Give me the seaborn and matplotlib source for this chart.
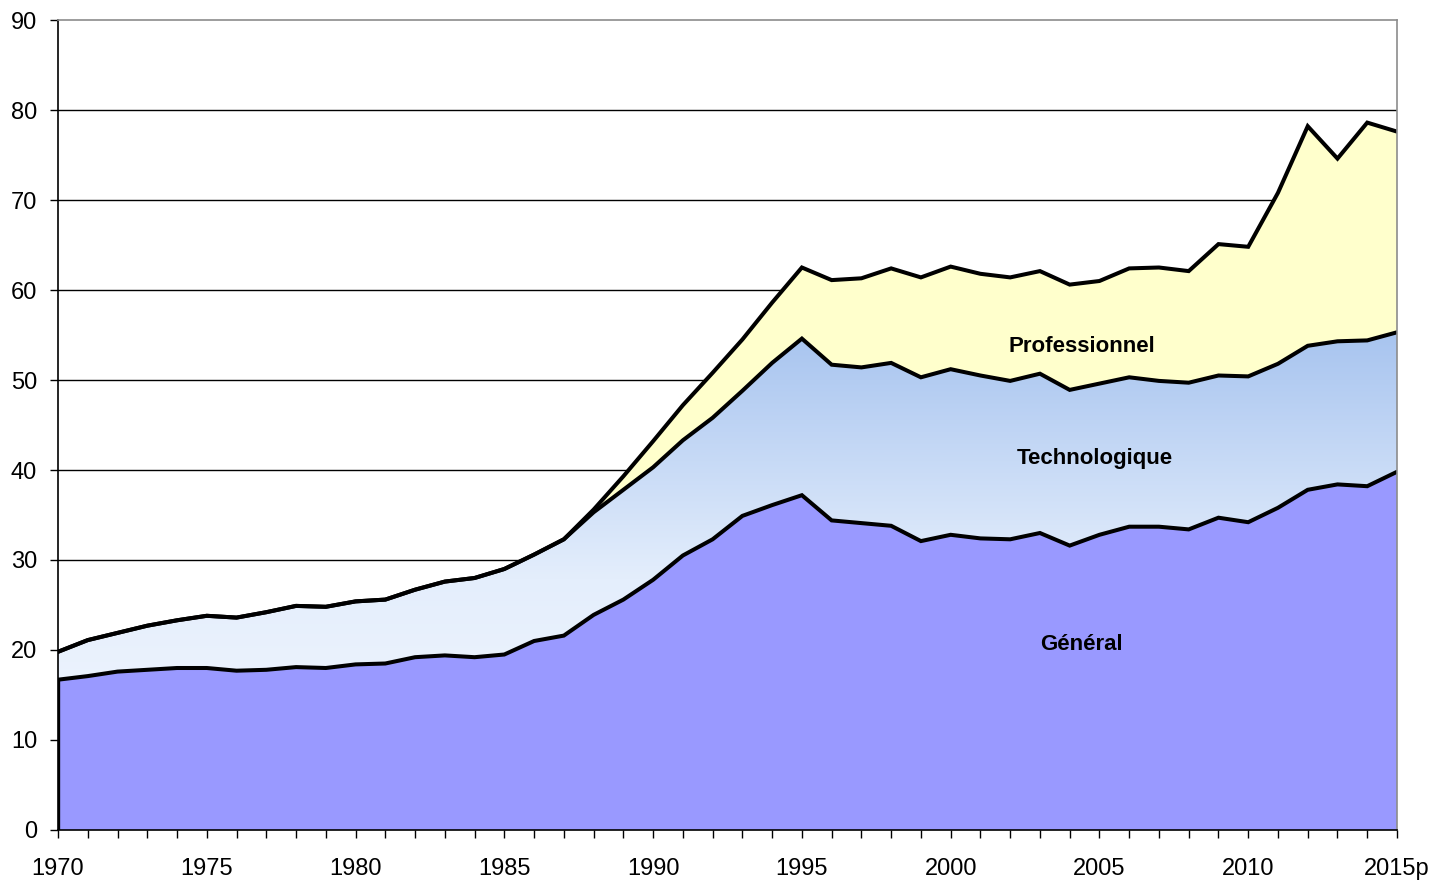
import numpy as np
import pandas as pd
import matplotlib
matplotlib.use("Agg")
import matplotlib.pyplot as plt
from matplotlib.colors import LinearSegmentedColormap
import seaborn as sns

years = list(range(1970, 2016))
year_labels = ["1970", "1975", "1980", "1985", "1990", "1995", "2000", "2005", "2010", "2015p"]

general = [16.7, 17.1, 17.6, 17.8, 18.0, 18.0, 17.7, 17.8, 18.1, 18.0,
           18.4, 18.5, 19.2, 19.4, 19.2, 19.5, 21.0, 21.6, 23.9, 25.6,
           27.8, 30.5, 32.3, 34.9, 36.1, 37.2, 34.4, 34.1, 33.8, 32.1,
           32.8, 32.4, 32.3, 33.0, 31.6, 32.8, 33.7, 33.7, 33.4, 34.7,
           34.2, 35.8, 37.8, 38.4, 38.2, 39.8]
technologique = [3.1, 4.0, 4.3, 4.9, 5.3, 5.8, 5.9, 6.4, 6.8, 6.8,
                 7.0, 7.1, 7.5, 8.2, 8.8, 9.5, 9.6, 10.7, 11.4, 12.2,
                 12.5, 12.8, 13.5, 13.9, 15.8, 17.4, 17.3, 17.3, 18.1, 18.2,
                 18.4, 18.1, 17.6, 17.7, 17.3, 16.8, 16.6, 16.2, 16.3, 15.8,
                 16.2, 16.0, 16.0, 15.9, 16.2, 15.5]
professionnel = [0.0, 0.0, 0.0, 0.0, 0.0, 0.0, 0.0, 0.0, 0.0, 0.0,
                 0.0, 0.0, 0.0, 0.0, 0.0, 0.0, 0.0, 0.0, 0.3, 1.5,
                 2.9, 3.9, 5.0, 5.7, 6.7, 7.9, 9.4, 9.9, 10.5, 11.1,
                 11.4, 11.3, 11.5, 11.4, 11.7, 11.4, 12.1, 12.6, 12.4, 14.6,
                 14.4, 19.0, 24.4, 20.3, 24.2, 22.3]

df = pd.DataFrame({"annee": years, "general": general,
                   "technologique": technologique, "professionnel": professionnel})
df["gen_tech"] = df["general"] + df["technologique"]
df["total"] = df["gen_tech"] + df["professionnel"]

sns.set_style("white")
plt.rcParams["font.family"] = ["Liberation Sans", "DejaVu Sans"]
plt.rcParams["text.color"] = "black"
plt.rcParams["xtick.color"] = "black"
plt.rcParams["ytick.color"] = "black"

fig = plt.figure(figsize=(14.51, 8.83), dpi=100)
ax = fig.add_axes([58 / 1451, 53 / 883, (1397 - 58) / 1451, (830 - 20) / 883])

# grid lines (behind areas)
for v in range(10, 90, 10):
    ax.axhline(v, color="#000000", lw=1.0, zorder=0.5)

x = df["annee"].values
# Général
ax.fill_between(x, 0, df["general"], facecolor="#9999FF", edgecolor="none", zorder=1)
# Technologique with vertical gradient
poly = ax.fill_between(x, df["general"], df["gen_tech"], facecolor="none", edgecolor="none", zorder=1)
cmap = LinearSegmentedColormap.from_list("tech", ["#F6F9FF", "#E4EEFC", "#A6C3EF"])
grad = np.linspace(0, 1, 256).reshape(-1, 1)
img = ax.imshow(grad, extent=[1970, 2015, 0, 56], aspect="auto", origin="lower",
                cmap=cmap, zorder=1.1, interpolation="bilinear")
img.set_clip_path(poly.get_paths()[0], transform=ax.transData)
# Professionnel
ax.fill_between(x, df["gen_tech"], df["total"], facecolor="#FFFFCC", edgecolor="none", zorder=1)

# boundary lines
for col in ["total", "gen_tech", "general"]:
    sns.lineplot(data=df, x="annee", y=col, ax=ax, color="black", lw=2.9, zorder=3,
                 solid_joinstyle="miter")
ax.plot([1970, 1970], [0, general[0]], color="black", lw=2.4, zorder=3)

ax.set_xlim(1970, 2015)
ax.set_ylim(0, 90)
ax.set_xlabel("")
ax.set_ylabel("")

ax.set_yticks(range(0, 91, 10))
ax.set_xticks(years, minor=True)
ax.set_xticks([1970, 1975, 1980, 1985, 1990, 1995, 2000, 2005, 2010, 2015])
ax.set_xticklabels(year_labels)
ax.tick_params(axis="both", which="major", labelsize=17, direction="out", length=6,
               width=1, color="black", labelcolor="black", left=True, bottom=True)
ax.tick_params(axis="x", which="minor", direction="out", length=6, width=1,
               color="black", bottom=True)
ax.tick_params(axis="x", which="major", pad=14)
ax.tick_params(axis="y", which="major", pad=9)

for s in ["left", "bottom"]:
    ax.spines[s].set_color("black")
    ax.spines[s].set_linewidth(1.2)
for s in ["top", "right"]:
    ax.spines[s].set_color("#8C8C8C")
    ax.spines[s].set_linewidth(1.2)
for s in ax.spines.values():
    s.set_zorder(4)

ax.text(2004.4, 53.7, "Professionnel", ha="center", va="center", fontsize=16,
        fontweight="bold", color="black", zorder=5)
ax.text(2004.85, 41.3, "Technologique", ha="center", va="center", fontsize=16,
        fontweight="bold", color="black", zorder=5)
ax.text(2004.4, 20.6, "Général", ha="center", va="center", fontsize=16,
        fontweight="bold", color="black", zorder=5)

fig.savefig("out.png", dpi=100)
